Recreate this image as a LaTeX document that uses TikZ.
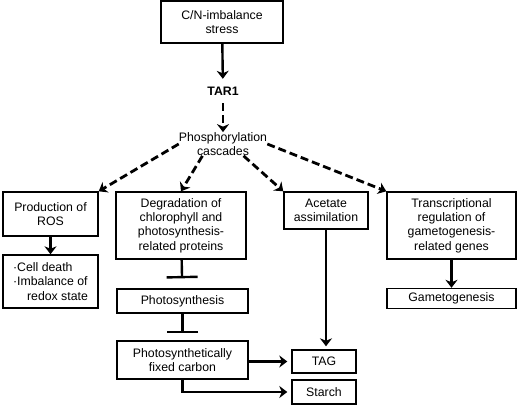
\documentclass[tikz,border=0pt]{standalone}
\usepackage{fontspec}
\setmainfont{Liberation Sans}
\usetikzlibrary{arrows.meta}
\tikzset{
  box/.style={draw, line width=1.4pt, inner sep=0pt, align=center, font=\fs},
  lbl/.style={inner sep=0pt, align=center, font=\fs},
  tip/.style={-{Stealth[length=8pt,width=12pt,inset=2.5pt]}},
  arr/.style={line width=2.4pt, tip},
  darr/.style={line width=2.8pt, dash pattern=on 8pt off 4pt, tip},
  inh/.style={line width=2.4pt, -{Bar[width=31pt]}},
}
\newcommand{\fs}{\fontsize{12.3pt}{14.3pt}\selectfont}
\begin{document}
\begin{tikzpicture}[x=1pt,y=-1pt]
\useasboundingbox (0,0) rectangle (520,408);
\node[box, minimum width=122pt, minimum height=42pt] (top) at (222,22) {C/N-imbalance\\stress};
\node[lbl, font=\fs\bfseries, minimum height=24pt] (tar) at (223,91) {TAR1};
\node[lbl] (phos) at (223,144) {Phosphorylation\\cascades};
\node[box, minimum width=95pt, minimum height=44pt] (ros) at (50.5,214) {Production of\\ROS};
\node[box, minimum width=130pt, minimum height=67pt] (deg) at (181,225.5) {Degradation of\\chlorophyll and\\photosynthesis-\\related proteins};
\node[box, minimum width=84pt, minimum height=37pt] (ace) at (326,210.5) {Acetate\\assimilation};
\node[box, minimum width=129pt, minimum height=67pt] (tra) at (451.5,225.5) {Transcriptional\\regulation of\\gametogenesis-\\related genes};
\node[box, minimum width=95pt, minimum height=53pt, align=left] (cell) at (50.5,281.5) {·Cell death\\·Imbalance of\\\hspace*{14pt}redox state};
\node[box, minimum width=131pt, minimum height=24pt] (pho) at (182.5,301) {Photosynthesis};
\node[box, minimum width=131pt, minimum height=38pt] (fix) at (182.5,360) {Photosynthetically\\fixed carbon};
\node[box, minimum width=64pt, minimum height=23pt] (tag) at (324,361.5) {TAG};
\node[box, minimum width=64pt, minimum height=24pt] (sta) at (324,392) {Starch};
\node[box, minimum width=129pt, minimum height=20pt] (gam) at (451.5,298.5) {Gametogenesis};

\draw[arr] (top) -- (tar);
\draw[darr] (tar) -- (phos);
\draw[darr] (phos.west) -- (ros.north east);
\draw[darr] (phos.210) -- (deg.north);
\draw[darr] (phos.330) -- (ace.north west);
\draw[darr] (phos.east) -- (tra.north west);
\draw[arr] (ros) -- (cell);
\draw[inh, shorten >=10pt] (deg) -- (pho);
\draw[inh, shorten >=7pt] (pho) -- (fix);
\draw[arr, shorten >=3pt] (ace.south) -- (ace.south |- tag.north);
\draw[arr, shorten >=4pt] (fix.east |- tag.west) -- (tag.west);
\draw[arr, shorten >=4pt] (fix.south) |- (sta.west);
\draw[arr] (tra) -- (gam);
\end{tikzpicture}
\end{document}
